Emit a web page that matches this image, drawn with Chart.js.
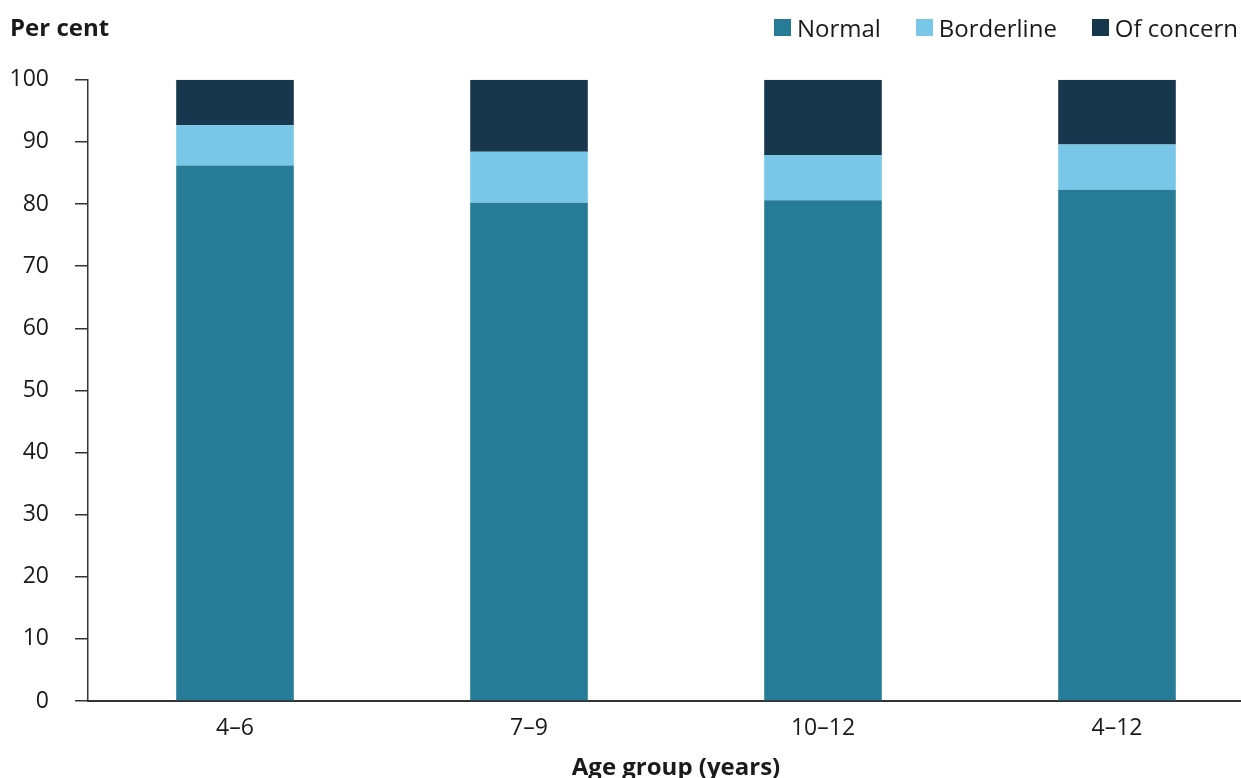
<!DOCTYPE html>
<html>
<head>
<meta charset="utf-8">
<script src="https://cdn.jsdelivr.net/npm/chart.js@4"></script>
<style>
    body { margin: 0; overflow: hidden; background: #fff; font-family: 'Open Sans', sans-serif; }
    .wrap { position: relative; width: 1270px; height: 790px; }
    .legend { position: absolute; right: 32px; top: 11px; display: flex; align-items: center; font-size: 24px; color: #1a1a1a; }
    .legend span.item { display: flex; align-items: center; margin-right: 35px; }
    .legend span.item:last-child { margin-right: 0; }
    .legend i { display: inline-block; width: 17px; height: 17px; margin-right: 6px; }
</style>
</head>
<body>
<div class="wrap">
    <canvas id="ageChart"></canvas>
    <div class="legend" id="legend"></div>
</div>
<script>
const categories = ['4–6', '7–9', '10–12', '4–12'];
const normal = [86.2, 80.2, 80.6, 82.3];
const borderline = [6.5, 8.2, 7.3, 7.3];
const ofConcern = [7.3, 11.6, 12.1, 10.4];
const yTicks = [0, 10, 20, 30, 40, 50, 60, 70, 80, 90, 100];

const textColor = '#1a1a1a';
const axisColor = '#333';

Chart.defaults.font.family = "'Open Sans', sans-serif";
Chart.defaults.font.size = 23;
Chart.defaults.color = textColor;

const series = [
    { label: 'Normal', data: normal, color: '#267b97' },
    { label: 'Borderline', data: borderline, color: '#79c7e8' },
    { label: 'Of concern', data: ofConcern, color: '#16374c' },
];

// html legend, matches the original placement better than the built-in one
const legendEl = document.getElementById('legend');
series.forEach(s => {
    const item = document.createElement('span');
    item.className = 'item';
    item.innerHTML = '<i style="background:' + s.color + '"></i>' + s.label;
    legendEl.appendChild(item);
});

new Chart(document.getElementById('ageChart'), {
    type: 'bar',
    data: {
        labels: categories,
        datasets: series.map(s => ({
            label: s.label,
            data: s.data,
            backgroundColor: s.color,
            borderWidth: 0,
            barPercentage: 0.4,
            categoryPercentage: 1,
        })),
    },
    options: {
        responsive: true,
        maintainAspectRatio: false,
        animation: false,
        layout: { padding: { left: 10, right: 6, top: 0, bottom: 0 } },
        plugins: {
            legend: { display: false },
            tooltip: { enabled: false },
            title: {
                display: true,
                text: 'Per cent',
                align: 'start',
                font: { weight: 'bold', size: 24 },
                color: textColor,
                padding: { top: 15, bottom: 36 },
            },
        },
        scales: {
            x: {
                stacked: true,
                offset: true,
                grid: { display: true, drawOnChartArea: false, drawTicks: false },
                border: { display: true, color: axisColor, width: 2 },
                ticks: { padding: 14, color: textColor },
                title: {
                    display: true,
                    text: 'Age group (years)',
                    font: { weight: 'bold', size: 24 },
                    color: textColor,
                    padding: { top: 4, bottom: 7 },
                },
                afterFit: scale => { scale.height = 89; },
            },
            y: {
                stacked: true,
                min: 0,
                max: 100,
                afterBuildTicks: scale => { scale.ticks = yTicks.map(v => ({ value: v })); },
                grid: { drawOnChartArea: false, drawTicks: true, tickLength: 13, color: axisColor, lineWidth: 1.5 },
                border: { display: true, color: axisColor, width: 1.5 },
                ticks: { padding: 26, color: textColor },
                afterFit: scale => { scale.width = 78; },
            },
        },
    },
});
</script>
</body>
</html>
